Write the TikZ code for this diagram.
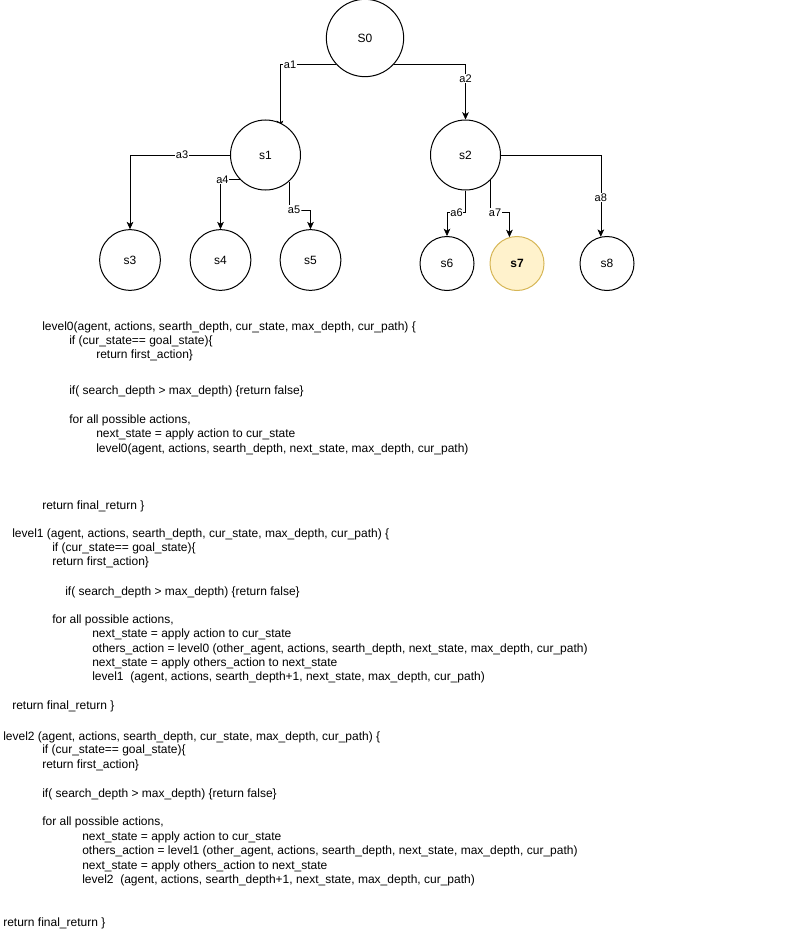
\documentclass[tikz,border=0pt]{standalone}
\usepackage{fontspec}
\setmainfont{Liberation Sans}
\usetikzlibrary{arrows.meta}
\definecolor{goalfill}{HTML}{FFF2CC}
\definecolor{goalline}{HTML}{D6B656}
\pgfdeclarelayer{bg}
\pgfsetlayers{bg,main}

\begin{document}
\begin{tikzpicture}[
  x=0.75pt,y=-0.75pt,
  >={Stealth[length=5.5pt,width=5pt,inset=1.5pt]},
  line width=0.75pt,
  state/.style={circle,draw,fill=white,inner sep=0pt,font=\fontsize{9}{10}\selectfont},
  goal/.style={state,draw=goalline,fill=goalfill,font=\fontsize{9}{10}\selectfont\bfseries},
  flow/.style={->},
  act/.style={fill=white,inner sep=0.6pt,font=\fontsize{8.25}{9}\selectfont},
  code/.style={anchor=west,inner sep=0pt,text height=6.5pt,text depth=2pt,font=\fontsize{9}{10.8}\selectfont}
]
  \useasboundingbox (0,0) rectangle (801,931);

  \node[state,minimum size=58pt] (s0) at (365,38) {S0};
  \node[state,minimum size=52.5pt] (s1) at (265.5,155) {s1};
  \node[state,minimum size=52.5pt] (s2) at (465.5,155) {s2};
  \node[state,minimum size=45.5pt] (s3) at (130,260) {s3};
  \node[state,minimum size=45.5pt] (s4) at (220.5,260) {s4};
  \node[state,minimum size=45.5pt] (s5) at (310.5,260) {s5};
  \node[state,minimum size=40.5pt] (s6) at (447,263.5) {s6};
  \node[goal,minimum size=40.5pt] (s7) at (517,263.5) {s7};
  \node[state,minimum size=40.5pt] (s8) at (607,263.5) {s8};

  \coordinate (k5) at (294,210);
  \coordinate (k6) at (456.5,212.5);
  \coordinate (k7) at (495,212.5);

  \begin{pgfonlayer}{bg}
    \draw[flow,shorten >=-4pt] (s0.223) -| node[act,pos=.41]{a1} (s1.66);
    \draw[flow] (s0.317) -| node[act,pos=.625]{a2} (s2.north);
    \draw[flow] (s1.west) -| node[act,pos=.24]{a3} (s3.north);
    \draw[flow] (s1.224) -| node[act,pos=.45]{a4} (s4.north);
    \draw[flow] (s1.311) |- (k5) node[act]{a5} -| (s5.north);
    \draw[flow] (s2.south) |- (k6) node[act]{a6} -| (s6.north);
    \draw[flow] (s2.south east) |- (k7) node[act]{a7} -| (s7.106);
    \draw[flow] (s2.east) -| node[act,pos=.76]{a8} (s8.103);
  \end{pgfonlayer}

  \node[code] (l0a) at (42,327) {level0(agent, actions, searth\_depth, cur\_state, max\_depth, cur\_path) \{};
  \node[code] (l0b) at (69,341) {if (cur\_state== goal\_state)\{};
  \node[code] (l0c) at (96,355) {return first\_action\}};
  \node[code] (l0d) at (69,391) {if( search\_depth > max\_depth) \{return false\}};
  \node[code] (l0e) at (69,420) {for all possible actions,};
  \node[code] (l0f) at (96,434) {next\_state = apply action to cur\_state};
  \node[code] (l0g) at (96,449) {level0(agent, actions, searth\_depth, next\_state, max\_depth, cur\_path)};
  \node[code] (l0h) at (42,506) {return final\_return \}};

  \node[code] (l1a) at (12,534) {level1 (agent, actions, searth\_depth, cur\_state, max\_depth, cur\_path) \{};
  \node[code] (l1b) at (52,548) {if (cur\_state== goal\_state)\{};
  \node[code] (l1c) at (52,562) {return first\_action\}};
  \node[code] (l1d) at (65,592) {if( search\_depth > max\_depth) \{return false\}};
  \node[code] (l1e) at (52,620) {for all possible actions,};
  \node[code] (l1f) at (92,634) {next\_state = apply action to cur\_state};
  \node[code] (l1g) at (92,649) {others\_action = level0 (other\_agent, actions, searth\_depth, next\_state, max\_depth, cur\_path)};
  \node[code] (l1h) at (92,663) {next\_state = apply others\_action to next\_state};
  \node[code] (l1i) at (92,677) {level1\ \ (agent, actions, searth\_depth+1, next\_state, max\_depth, cur\_path)};
  \node[code] (l1j) at (12,706) {return final\_return \}};

  \node[code] (l2a) at (3,737) {level2 (agent, actions, searth\_depth, cur\_state, max\_depth, cur\_path) \{};
  \node[code] (l2b) at (42,750) {if (cur\_state== goal\_state)\{};
  \node[code] (l2c) at (42,765) {return first\_action\}};
  \node[code] (l2d) at (42,794) {if( search\_depth > max\_depth) \{return false\}};
  \node[code] (l2e) at (42,822) {for all possible actions,};
  \node[code] (l2f) at (82,837) {next\_state = apply action to cur\_state};
  \node[code] (l2g) at (82,851) {others\_action = level1 (other\_agent, actions, searth\_depth, next\_state, max\_depth, cur\_path)};
  \node[code] (l2h) at (82,866) {next\_state = apply others\_action to next\_state};
  \node[code] (l2i) at (82,880) {level2\ \ (agent, actions, searth\_depth+1, next\_state, max\_depth, cur\_path)};
  \node[code] (l2j) at (3,923) {return final\_return \}};
\end{tikzpicture}
\end{document}
